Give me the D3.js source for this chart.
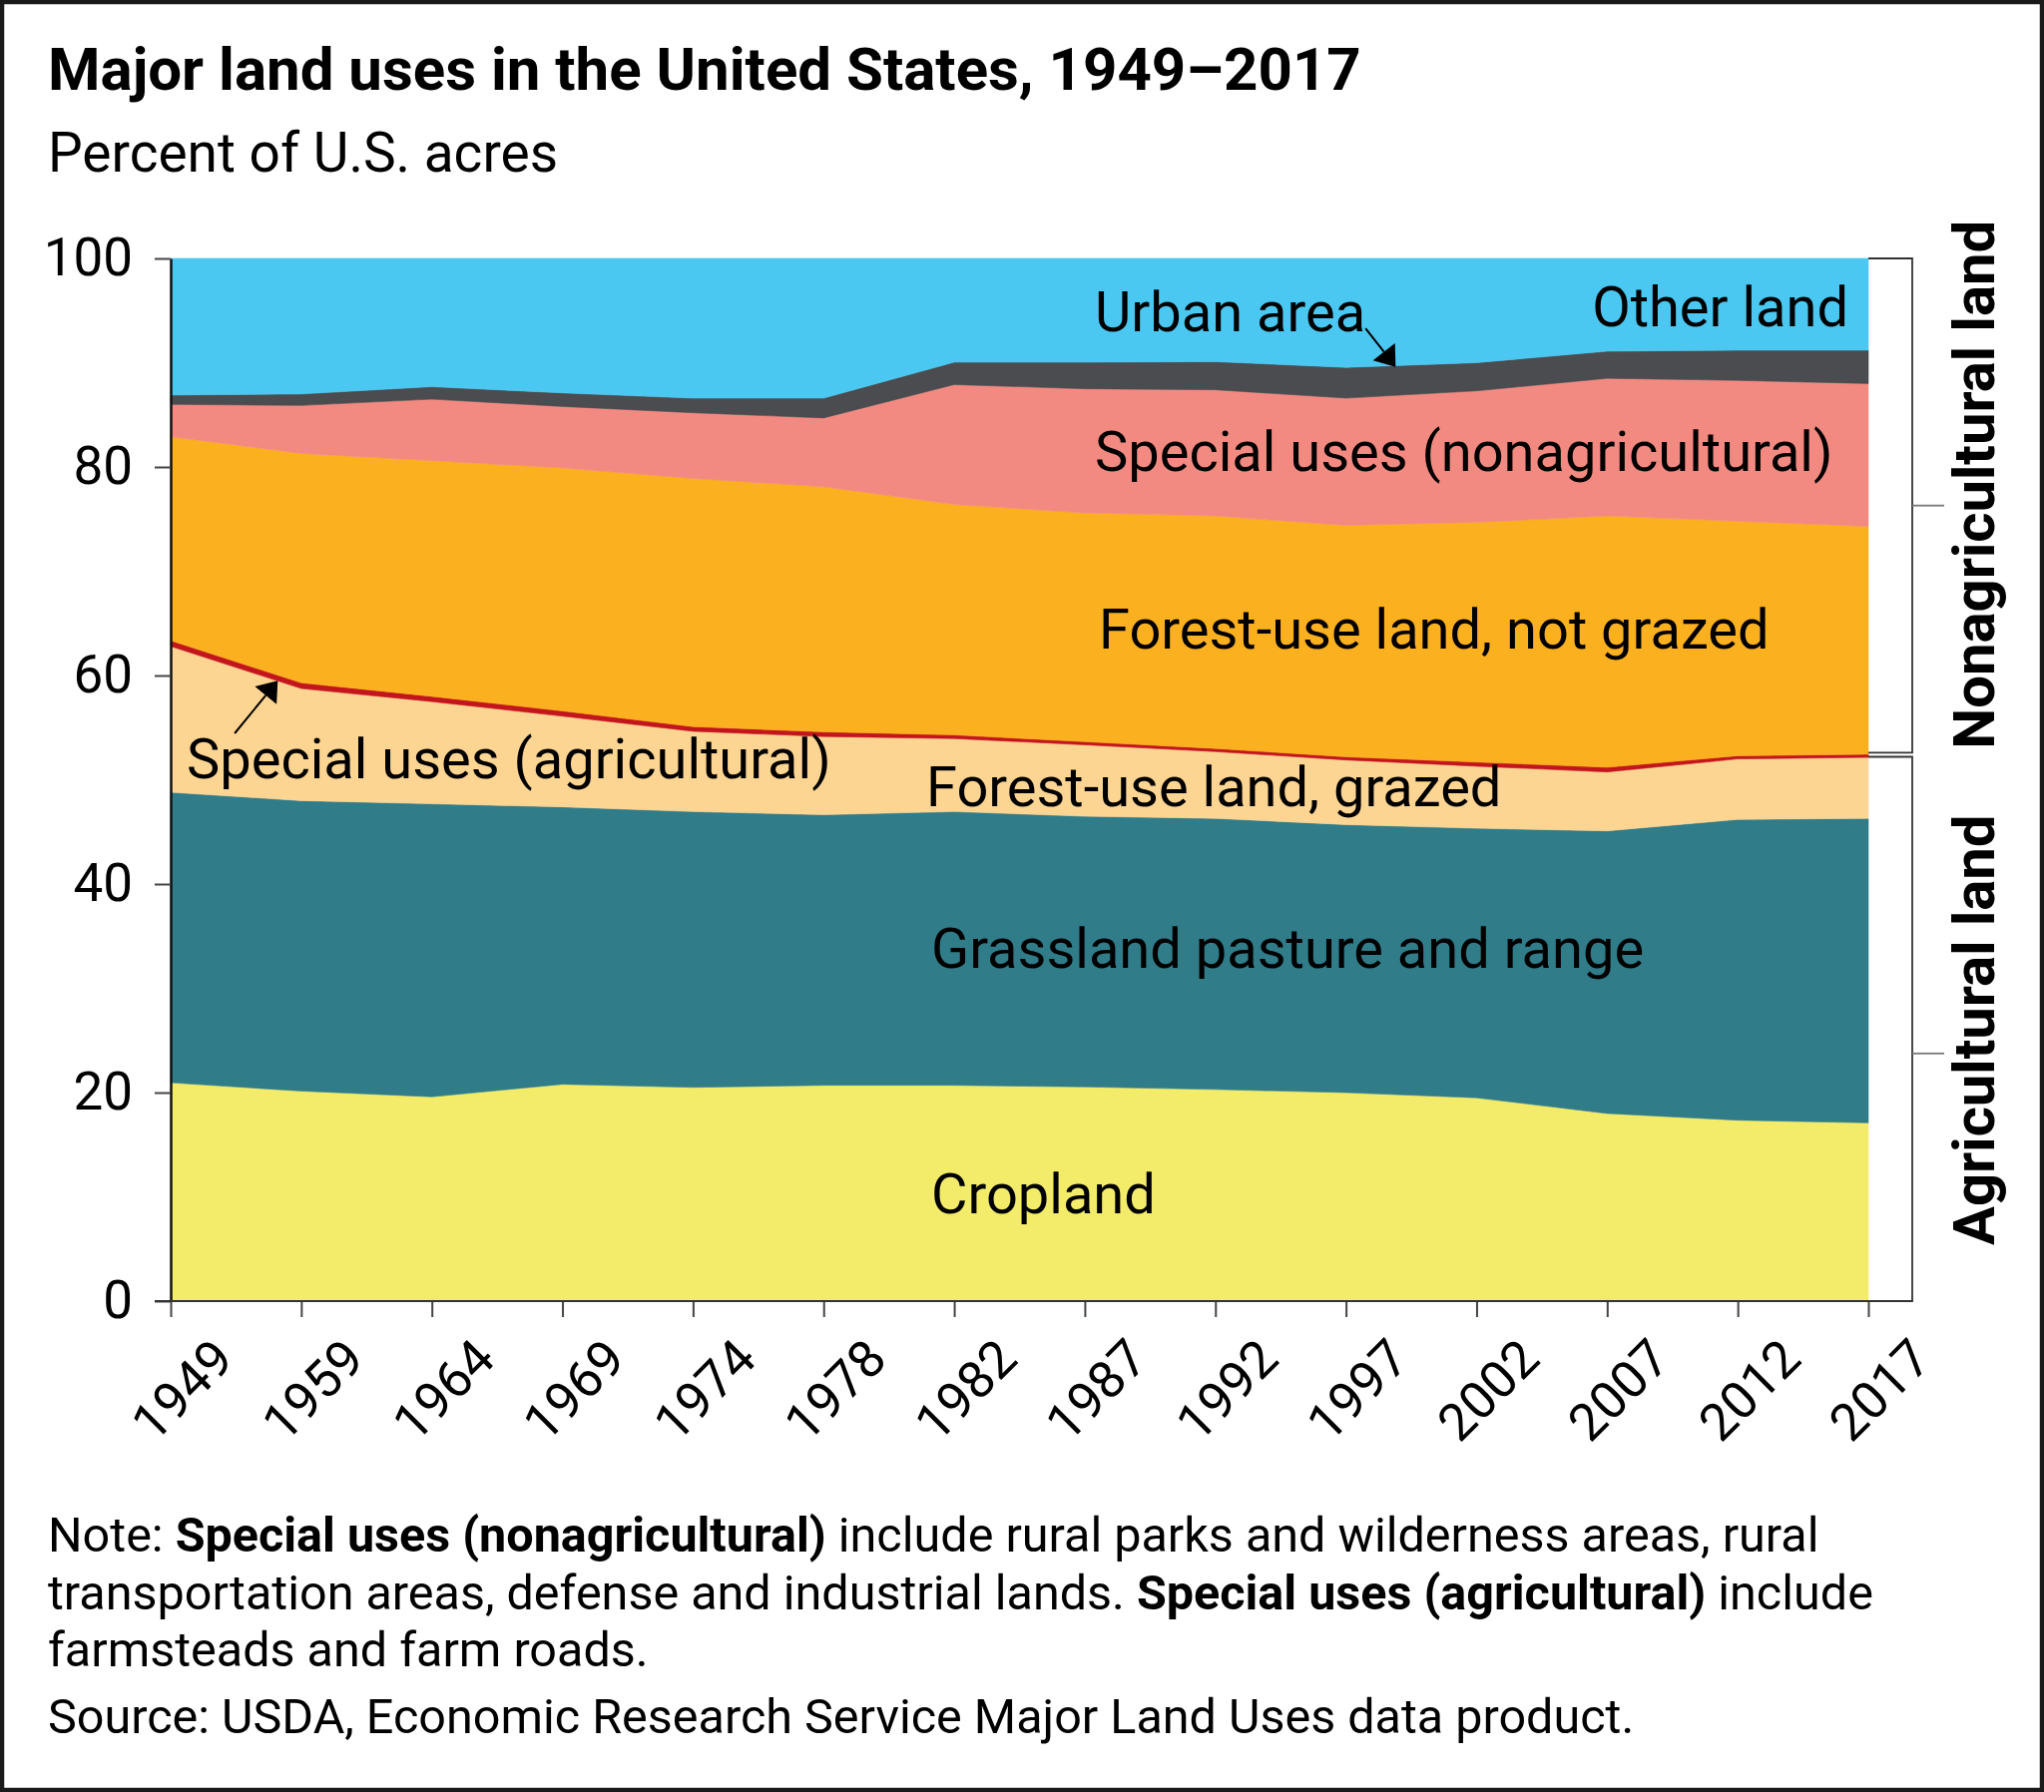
<!DOCTYPE html>
<html>
<head>
<meta charset="utf-8">
<title>Major land uses in the United States, 1949–2017</title>
<script src="https://cdn.jsdelivr.net/npm/d3@7"></script>
<style>
  body { margin: 0; background: #fff; }
  text { font-family: Roboto, "Noto Sans", sans-serif; fill: #000; }
</style>
</head>
<body>
<script>
// data, percent of U.S. acres
var years = ["1949","1959","1964","1969","1974","1978","1982","1987","1992","1997","2002","2007","2012","2017"];
var cropland        = [20.95, 20.15, 19.6, 20.8, 20.5, 20.7, 20.7, 20.55, 20.3, 20.0, 19.5, 18.0, 17.35, 17.1];
var grassland       = [27.85, 27.85, 28.1, 26.6, 26.45, 25.95, 26.25, 25.95, 26.0, 25.7, 25.85, 27.1, 28.85, 29.2];
var forestGrazed    = [14.0, 10.75, 9.8, 8.7, 7.7, 7.5, 7.0, 6.85, 6.4, 6.2, 5.95, 5.65, 5.8, 5.85];
var specialAg       = [0.55, 0.55, 0.5, 0.5, 0.45, 0.45, 0.35, 0.3, 0.3, 0.3, 0.4, 0.45, 0.3, 0.3];
var forestNotGrazed = [19.55, 22.0, 22.6, 23.3, 23.8, 23.5, 22.1, 21.95, 22.3, 22.2, 23.0, 24.1, 22.5, 21.85];
var specialNonag    = [3.1, 4.6, 5.9, 5.9, 6.3, 6.6, 11.5, 11.9, 12.1, 12.2, 12.6, 13.2, 13.5, 13.7];
var urban           = [0.9, 1.1, 1.2, 1.3, 1.4, 1.9, 2.15, 2.55, 2.7, 2.95, 2.7, 2.6, 2.9, 3.2];
var otherLand       = [13.1, 13.0, 12.3, 12.9, 13.4, 13.4, 9.95, 9.95, 9.9, 10.45, 10.0, 8.9, 8.8, 8.8];
var yTicks = [0, 20, 40, 60, 80, 100];

var keys = ["cropland","grassland","forestGrazed","specialAg","forestNotGrazed","specialNonag","urban","otherLand"];
var series = {cropland: cropland, grassland: grassland, forestGrazed: forestGrazed, specialAg: specialAg,
              forestNotGrazed: forestNotGrazed, specialNonag: specialNonag, urban: urban, otherLand: otherLand};
var colors = {cropland: "#f3ec6b", grassland: "#307c89", forestGrazed: "#fdd593", specialAg: "#c3161c",
              forestNotGrazed: "#fbb01f", specialNonag: "#f38a82", urban: "#4a4c4f", otherLand: "#4bc8f1"};

// build a table for d3.stack
var table = years.map(function(yr, i){
    var row = {year: yr};
    keys.forEach(function(k){ row[k] = series[k][i]; });
    return row;
});

var W = 2048, H = 1796;
var plotL = 171, plotR = 1872, plotT = 259, plotB = 1304;

var svg = d3.select("body").append("svg")
    .attr("width", W)
    .attr("height", H);

svg.append("rect")
    .attr("x", 2).attr("y", 2)
    .attr("width", W - 4).attr("height", H - 4)
    .attr("fill", "#fff")
    .attr("stroke", "#1a1a1a")
    .attr("stroke-width", 4.5);

var x = d3.scalePoint().domain(years).range([plotL, plotR]);
var y = d3.scaleLinear().domain([0, 100]).range([plotB, plotT]);

var stacked = d3.stack().keys(keys)(table);

var area = d3.area()
    .x(function(d){ return x(d.data.year); })
    .y0(function(d){ return y(d[0]); })
    .y1(function(d){ return y(d[1]); });

svg.append("g").selectAll("path")
    .data(stacked)
    .enter()
    .append("path")
    .attr("d", area)
    .attr("fill", function(d){ return colors[d.key]; })
    .attr("stroke", function(d){ return colors[d.key]; })
    .attr("stroke-width", 0.6);

// axes
var yAxis = svg.append("g")
    .attr("transform", "translate(" + plotL + ",0)")
    .call(d3.axisLeft(y).tickValues(yTicks).tickSize(16).tickPadding(22).tickSizeOuter(0));
yAxis.select(".domain").attr("stroke", "#111").attr("stroke-width", 2.5);
yAxis.selectAll(".tick line").attr("stroke", "#444").attr("stroke-width", 2);
yAxis.selectAll("text")
    .attr("font-size", "53px")
    .attr("font-family", "Roboto, sans-serif")
    .attr("fill", "#000");

var xAxis = svg.append("g")
    .attr("transform", "translate(0," + plotB + ")")
    .call(d3.axisBottom(x).tickSize(16).tickSizeOuter(0));
xAxis.select(".domain").remove();
xAxis.selectAll(".tick line").attr("stroke", "#444").attr("stroke-width", 2);
xAxis.selectAll("text")
    .attr("font-size", "52px")
    .attr("font-family", "Roboto, sans-serif")
    .attr("fill", "#000")
    .attr("y", 0)
    .attr("dy", "0.35em")
    .attr("text-anchor", "middle")
    .attr("transform", "translate(11,89) rotate(-45)");

// bottom axis line, running under the right-hand brackets
svg.append("line")
    .attr("x1", plotL - 16).attr("x2", plotR + 44)
    .attr("y1", plotB).attr("y2", plotB)
    .attr("stroke", "#333").attr("stroke-width", 2);

// right-hand brackets
var brackets = [
    {label: "Nonagricultural land", from: 52.6, to: 100, tick: 76.3, labelAt: 78.3},
    {label: "Agricultural land", from: 0, to: 52.2, tick: 23.75, labelAt: 26.0}
];
var bx = plotR + 44;
brackets.forEach(function(b){
    svg.append("path")
        .attr("d", "M" + plotR + "," + y(b.to) + "H" + bx + "V" + y(b.from) + "H" + plotR)
        .attr("fill", "none")
        .attr("stroke", "#333")
        .attr("stroke-width", 1.8);
    svg.append("line")
        .attr("x1", bx).attr("x2", bx + 32)
        .attr("y1", y(b.tick)).attr("y2", y(b.tick))
        .attr("stroke", "#777").attr("stroke-width", 1.8);
    svg.append("text")
        .text(b.label)
        .attr("transform", "translate(1998," + y(b.labelAt) + ") rotate(-90)")
        .attr("text-anchor", "middle")
        .attr("font-family", "'Liberation Sans', Arial, sans-serif")
        .attr("font-weight", "bold")
        .attr("font-size", "58px");
});

// titles
svg.append("text")
    .text("Major land uses in the United States, 1949–2017")
    .attr("x", 48).attr("y", 90)
    .attr("font-weight", "bold")
    .attr("font-size", "60px");
svg.append("text")
    .text("Percent of U.S. acres")
    .attr("x", 48).attr("y", 172)
    .attr("font-size", "55px");

// area labels
var labels = [
    {t: "Urban area", x: 1097, y: 332},
    {t: "Other land", x: 1852, y: 327, anchor: "end"},
    {t: "Special uses (nonagricultural)", x: 1097, y: 472},
    {t: "Forest-use land, not grazed", x: 1101, y: 650},
    {t: "Forest-use land, grazed", x: 928, y: 808},
    {t: "Grassland pasture and range", x: 933, y: 970},
    {t: "Cropland", x: 933, y: 1216},
    {t: "Special uses (agricultural)", x: 187, y: 780}
];
svg.append("g").selectAll("text")
    .data(labels)
    .enter()
    .append("text")
    .text(function(d){ return d.t; })
    .attr("x", function(d){ return d.x; })
    .attr("y", function(d){ return d.y; })
    .attr("text-anchor", function(d){ return d.anchor || "start"; })
    .attr("font-size", "56px");

// pointer arrows (fractional year index, percent)
function xi(i){ return plotL + i * x.step(); }
function arrow(i1, v1, i2, v2){
    var x1 = xi(i1), y1 = y(v1), x2 = xi(i2), y2 = y(v2);
    var a = Math.atan2(y2 - y1, x2 - x1);
    var len = 19, hw = 14;
    var bxp = x2 - len * Math.cos(a), byp = y2 - len * Math.sin(a);
    svg.append("line")
        .attr("x1", x1).attr("y1", y1).attr("x2", bxp).attr("y2", byp)
        .attr("stroke", "#000").attr("stroke-width", 2);
    svg.append("path")
        .attr("d", "M" + x2 + "," + y2 +
              "L" + (bxp + hw * Math.sin(a)) + "," + (byp - hw * Math.cos(a)) +
              "L" + (bxp - hw * Math.sin(a)) + "," + (byp + hw * Math.cos(a)) + "Z")
        .attr("fill", "#000");
}
arrow(9.15, 93.3, 9.38, 89.6);
arrow(0.49, 54.45, 0.82, 59.5);

// note and source
var notes = [
    [["Note: ", false], ["Special uses (nonagricultural)", true], [" include rural parks and wilderness areas, rural", false]],
    [["transportation areas, defense and industrial lands. ", false], ["Special uses (agricultural)", true], [" include", false]],
    [["farmsteads and farm roads.", false]]
];
var noteY = [1555, 1613, 1670];
notes.forEach(function(parts, i){
    var t = svg.append("text")
        .attr("x", 48).attr("y", noteY[i])
        .attr("font-size", "48.5px");
    parts.forEach(function(p){
        t.append("tspan").text(p[0]).attr("font-weight", p[1] ? "bold" : "normal");
    });
});
svg.append("text")
    .text("Source: USDA, Economic Research Service Major Land Uses data product.")
    .attr("x", 48).attr("y", 1737)
    .attr("font-size", "48.5px");
</script>
</body>
</html>
